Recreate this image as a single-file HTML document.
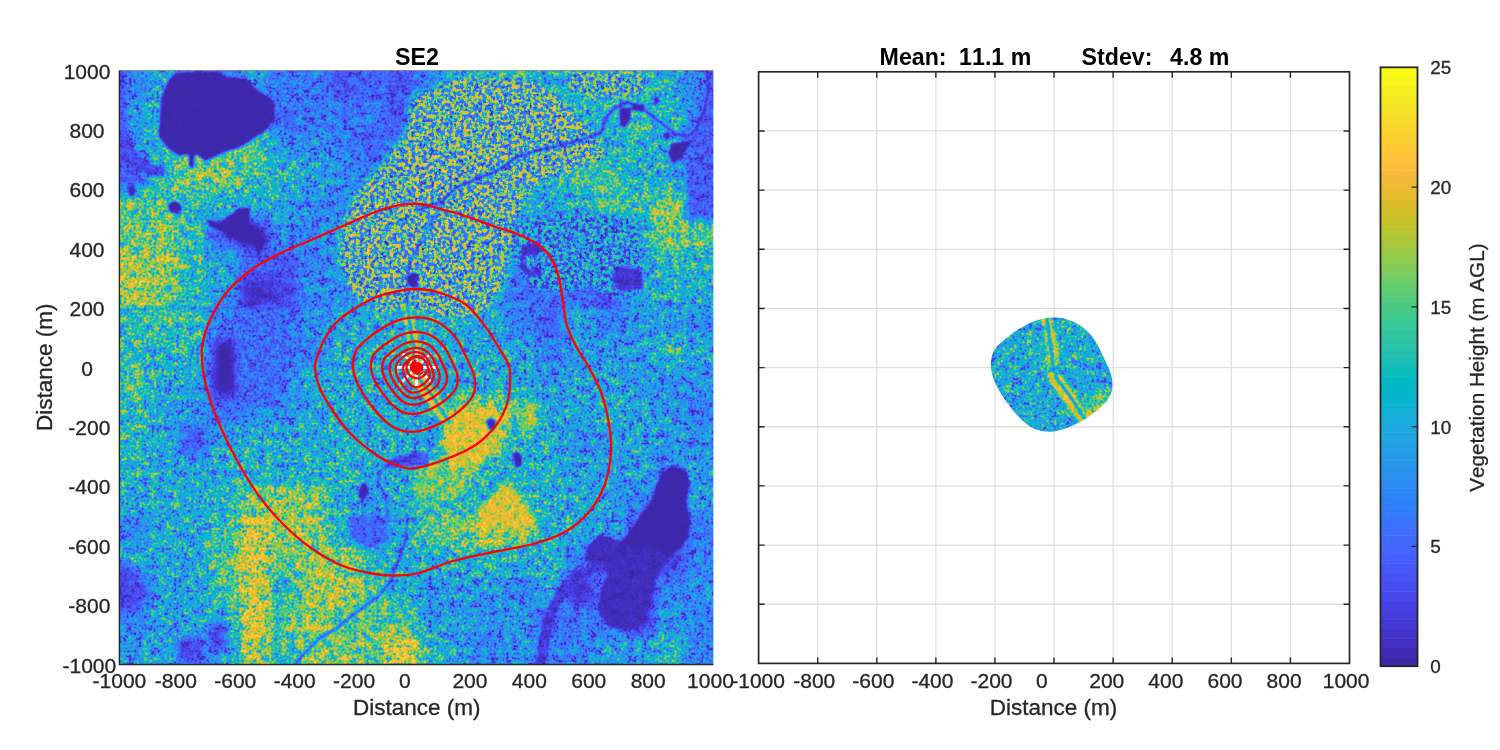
<!DOCTYPE html>
<html><head><meta charset="utf-8"><title>SE2 vegetation height</title>
<style>html,body{margin:0;padding:0;background:#fff}svg{display:block;will-change:transform;opacity:0.9999}text{font-family:"Liberation Sans",Arial,Helvetica,sans-serif;fill:#262626;white-space:pre;font-kerning:none;stroke:#262626;stroke-width:0.3px}text[font-weight=bold],g[font-weight=bold] text{stroke:none}</style></head><body>
<svg width="1500" height="750" viewBox="0 0 1500 750">
<defs>
<filter id="bG" x="-10%" y="-10%" width="120%" height="120%" color-interpolation-filters="sRGB"><feGaussianBlur stdDeviation="7"/></filter>
<filter id="bR" x="-10%" y="-10%" width="120%" height="120%" color-interpolation-filters="sRGB"><feGaussianBlur stdDeviation="3"/></filter>
<filter id="b1" x="-5%" y="-5%" width="110%" height="110%" color-interpolation-filters="sRGB"><feGaussianBlur stdDeviation="1.2"/></filter>
<filter id="veg" x="0" y="0" width="594" height="594" filterUnits="userSpaceOnUse" color-interpolation-filters="sRGB">
<feTurbulence type="fractalNoise" baseFrequency="0.4" numOctaves="1" seed="7"/>
<feColorMatrix type="matrix" values="0 1 0 0 0  0 1 0 0 0  0 0 0 0 0  0 0 0 0 1" result="t1"/>
<feTurbulence type="fractalNoise" baseFrequency="0.13" numOctaves="2" seed="21"/>
<feColorMatrix type="matrix" values="0 1 0 0 0  0 1 0 0 0  0 0 0 0 0  0 0 0 0 1" result="t2"/>
<feTurbulence type="fractalNoise" baseFrequency="0.27" numOctaves="2" seed="5"/>
<feColorMatrix type="matrix" values="0 0 0 0 0  0 0 0 0 0  0 1 0 0 0  0 0 0 0 1" result="t3"/>
<feComposite in="t1" in2="t2" operator="arithmetic" k1="0" k2="0.55" k3="0.45" k4="0"/>
<feComposite in2="t3" operator="arithmetic" k1="0" k2="1" k3="1" k4="0"/>
<feComponentTransfer><feFuncR type="linear" slope="0" intercept="1"/><feFuncG type="linear" slope="3.4" intercept="-1.2"/><feFuncB type="linear" slope="7" intercept="-3.000"/></feComponentTransfer>
<feComponentTransfer result="n"><feFuncG type="table" tableValues="0 0.14 0.27 0.37 0.45 0.5 0.55 0.62 0.7 0.81 0.95"/></feComponentTransfer>
<feComposite in="SourceGraphic" in2="n" operator="arithmetic" k1="1" k2="0" k3="0" k4="0"/>
<feColorMatrix type="matrix" values="1 1 1 0 0  1 1 1 0 0  1 1 1 0 0  0 0 0 0 1"/>
<feComponentTransfer><feFuncR type="table" tableValues="0.242 0.250 0.258 0.265 0.271 0.275 0.278 0.280 0.281 0.281 0.279 0.276 0.270 0.260 0.244 0.221 0.196 0.183 0.179 0.176 0.169 0.154 0.146 0.138 0.125 0.111 0.095 0.069 0.030 0.004 0.007 0.043 0.096 0.141 0.172 0.194 0.216 0.247 0.291 0.341 0.391 0.446 0.504 0.562 0.617 0.672 0.724 0.774 0.820 0.863 0.887 0.906 0.924 0.942 0.958 0.975 0.989 0.996 0.997 0.997 0.996 0.995 0.992 0.989"/><feFuncG type="table" tableValues="0.150 0.165 0.182 0.198 0.215 0.234 0.256 0.278 0.301 0.323 0.345 0.367 0.389 0.412 0.436 0.460 0.485 0.507 0.529 0.550 0.570 0.590 0.609 0.628 0.646 0.663 0.680 0.695 0.708 0.720 0.731 0.741 0.750 0.758 0.767 0.776 0.784 0.792 0.797 0.801 0.803 0.802 0.799 0.794 0.788 0.779 0.770 0.760 0.750 0.741 0.736 0.733 0.730 0.729 0.728 0.730 0.736 0.745 0.756 0.767 0.779 0.791 0.803 0.815"/><feFuncB type="table" tableValues="0.660 0.708 0.751 0.795 0.836 0.871 0.899 0.922 0.941 0.958 0.972 0.983 0.991 0.995 0.999 0.997 0.989 0.980 0.968 0.952 0.936 0.922 0.908 0.897 0.888 0.876 0.860 0.839 0.816 0.792 0.766 0.739 0.712 0.684 0.655 0.625 0.592 0.557 0.519 0.479 0.435 0.391 0.348 0.304 0.261 0.223 0.191 0.165 0.154 0.160 0.168 0.179 0.195 0.213 0.229 0.241 0.243 0.236 0.227 0.219 0.210 0.202 0.194 0.188"/><feFuncA type="linear" slope="0" intercept="1"/></feComponentTransfer>
</filter>
<g id="field">
<g filter="url(#bG)">
<rect x="-40.0" y="-40.0" width="70.0" height="70.0" fill="#087900"/><rect x="29.7" y="-40.0" width="30.0" height="70.0" fill="#14a400"/><rect x="59.4" y="-40.0" width="30.0" height="70.0" fill="#065800"/><rect x="89.1" y="-40.0" width="30.0" height="70.0" fill="#065800"/><rect x="118.8" y="-40.0" width="30.0" height="70.0" fill="#0c9800"/><rect x="148.5" y="-40.0" width="30.0" height="70.0" fill="#076c00"/><rect x="178.2" y="-40.0" width="30.0" height="70.0" fill="#087900"/><rect x="207.9" y="-40.0" width="30.0" height="70.0" fill="#054300"/><rect x="237.6" y="-40.0" width="30.0" height="70.0" fill="#065800"/><rect x="267.3" y="-40.0" width="30.0" height="70.0" fill="#054300"/><rect x="297.0" y="-40.0" width="30.0" height="70.0" fill="#087900"/><rect x="326.7" y="-40.0" width="30.0" height="70.0" fill="#1fa800"/><rect x="356.4" y="-40.0" width="30.0" height="70.0" fill="#1fa800"/><rect x="386.1" y="-40.0" width="30.0" height="70.0" fill="#1fa800"/><rect x="415.8" y="-40.0" width="30.0" height="70.0" fill="#18a600"/><rect x="445.5" y="-40.0" width="30.0" height="70.0" fill="#18a600"/><rect x="475.2" y="-40.0" width="30.0" height="70.0" fill="#1fa800"/><rect x="504.9" y="-40.0" width="30.0" height="70.0" fill="#27a700"/><rect x="534.6" y="-40.0" width="30.0" height="70.0" fill="#18a600"/><rect x="564.3" y="-40.0" width="70.0" height="70.0" fill="#087900"/>
<rect x="-40.0" y="29.7" width="70.0" height="30.0" fill="#0e9c00"/><rect x="29.7" y="29.7" width="30.0" height="30.0" fill="#27a700"/><rect x="59.4" y="29.7" width="30.0" height="30.0" fill="#087900"/><rect x="89.1" y="29.7" width="30.0" height="30.0" fill="#087900"/><rect x="118.8" y="29.7" width="30.0" height="30.0" fill="#0c9800"/><rect x="148.5" y="29.7" width="30.0" height="30.0" fill="#065800"/><rect x="178.2" y="29.7" width="30.0" height="30.0" fill="#076c00"/><rect x="207.9" y="29.7" width="30.0" height="30.0" fill="#076c00"/><rect x="237.6" y="29.7" width="30.0" height="30.0" fill="#076c00"/><rect x="267.3" y="29.7" width="30.0" height="30.0" fill="#054300"/><rect x="297.0" y="29.7" width="30.0" height="30.0" fill="#14a400"/><rect x="326.7" y="29.7" width="30.0" height="30.0" fill="#1fa800"/><rect x="356.4" y="29.7" width="30.0" height="30.0" fill="#27a700"/><rect x="386.1" y="29.7" width="30.0" height="30.0" fill="#1fa800"/><rect x="415.8" y="29.7" width="30.0" height="30.0" fill="#18a600"/><rect x="445.5" y="29.7" width="30.0" height="30.0" fill="#18a600"/><rect x="475.2" y="29.7" width="30.0" height="30.0" fill="#27a700"/><rect x="504.9" y="29.7" width="30.0" height="30.0" fill="#39a200"/><rect x="534.6" y="29.7" width="30.0" height="30.0" fill="#27a700"/><rect x="564.3" y="29.7" width="70.0" height="30.0" fill="#087900"/>
<rect x="-40.0" y="59.4" width="70.0" height="30.0" fill="#098700"/><rect x="29.7" y="59.4" width="30.0" height="30.0" fill="#2da600"/><rect x="59.4" y="59.4" width="30.0" height="30.0" fill="#2da600"/><rect x="89.1" y="59.4" width="30.0" height="30.0" fill="#499f00"/><rect x="118.8" y="59.4" width="30.0" height="30.0" fill="#499f00"/><rect x="148.5" y="59.4" width="30.0" height="30.0" fill="#098700"/><rect x="178.2" y="59.4" width="30.0" height="30.0" fill="#098700"/><rect x="207.9" y="59.4" width="30.0" height="30.0" fill="#087900"/><rect x="237.6" y="59.4" width="30.0" height="30.0" fill="#065100"/><rect x="267.3" y="59.4" width="30.0" height="30.0" fill="#076c00"/><rect x="297.0" y="59.4" width="30.0" height="30.0" fill="#18a600"/><rect x="326.7" y="59.4" width="30.0" height="30.0" fill="#1fa800"/><rect x="356.4" y="59.4" width="30.0" height="30.0" fill="#2da600"/><rect x="386.1" y="59.4" width="30.0" height="30.0" fill="#1fa800"/><rect x="415.8" y="59.4" width="30.0" height="30.0" fill="#14a400"/><rect x="445.5" y="59.4" width="30.0" height="30.0" fill="#1fa800"/><rect x="475.2" y="59.4" width="30.0" height="30.0" fill="#1fa800"/><rect x="504.9" y="59.4" width="30.0" height="30.0" fill="#22a800"/><rect x="534.6" y="59.4" width="30.0" height="30.0" fill="#18a600"/><rect x="564.3" y="59.4" width="70.0" height="30.0" fill="#065800"/>
<rect x="-40.0" y="89.1" width="70.0" height="30.0" fill="#054300"/><rect x="29.7" y="89.1" width="30.0" height="30.0" fill="#2da600"/><rect x="59.4" y="89.1" width="30.0" height="30.0" fill="#54a800"/><rect x="89.1" y="89.1" width="30.0" height="30.0" fill="#54a800"/><rect x="118.8" y="89.1" width="30.0" height="30.0" fill="#39a200"/><rect x="148.5" y="89.1" width="30.0" height="30.0" fill="#27a700"/><rect x="178.2" y="89.1" width="30.0" height="30.0" fill="#11a100"/><rect x="207.9" y="89.1" width="30.0" height="30.0" fill="#0a8d00"/><rect x="237.6" y="89.1" width="30.0" height="30.0" fill="#076c00"/><rect x="267.3" y="89.1" width="30.0" height="30.0" fill="#098700"/><rect x="297.0" y="89.1" width="30.0" height="30.0" fill="#1fa800"/><rect x="326.7" y="89.1" width="30.0" height="30.0" fill="#27a700"/><rect x="356.4" y="89.1" width="30.0" height="30.0" fill="#1fa800"/><rect x="386.1" y="89.1" width="30.0" height="30.0" fill="#18a600"/><rect x="415.8" y="89.1" width="30.0" height="30.0" fill="#18a600"/><rect x="445.5" y="89.1" width="30.0" height="30.0" fill="#39a200"/><rect x="475.2" y="89.1" width="30.0" height="30.0" fill="#39a200"/><rect x="504.9" y="89.1" width="30.0" height="30.0" fill="#1fa800"/><rect x="534.6" y="89.1" width="30.0" height="30.0" fill="#14a400"/><rect x="564.3" y="89.1" width="70.0" height="30.0" fill="#065800"/>
<rect x="-40.0" y="118.8" width="70.0" height="30.0" fill="#499f00"/><rect x="29.7" y="118.8" width="30.0" height="30.0" fill="#499f00"/><rect x="59.4" y="118.8" width="30.0" height="30.0" fill="#2da600"/><rect x="89.1" y="118.8" width="30.0" height="30.0" fill="#1fa800"/><rect x="118.8" y="118.8" width="30.0" height="30.0" fill="#18a600"/><rect x="148.5" y="118.8" width="30.0" height="30.0" fill="#14a400"/><rect x="178.2" y="118.8" width="30.0" height="30.0" fill="#098700"/><rect x="207.9" y="118.8" width="30.0" height="30.0" fill="#087900"/><rect x="237.6" y="118.8" width="30.0" height="30.0" fill="#18a600"/><rect x="267.3" y="118.8" width="30.0" height="30.0" fill="#2da600"/><rect x="297.0" y="118.8" width="30.0" height="30.0" fill="#2da600"/><rect x="326.7" y="118.8" width="30.0" height="30.0" fill="#27a700"/><rect x="356.4" y="118.8" width="30.0" height="30.0" fill="#14a400"/><rect x="386.1" y="118.8" width="30.0" height="30.0" fill="#11a100"/><rect x="415.8" y="118.8" width="30.0" height="30.0" fill="#18a600"/><rect x="445.5" y="118.8" width="30.0" height="30.0" fill="#1fa800"/><rect x="475.2" y="118.8" width="30.0" height="30.0" fill="#499f00"/><rect x="504.9" y="118.8" width="30.0" height="30.0" fill="#2da600"/><rect x="534.6" y="118.8" width="30.0" height="30.0" fill="#54a800"/><rect x="564.3" y="118.8" width="70.0" height="30.0" fill="#2da600"/>
<rect x="-40.0" y="148.5" width="70.0" height="30.0" fill="#499f00"/><rect x="29.7" y="148.5" width="30.0" height="30.0" fill="#54a800"/><rect x="59.4" y="148.5" width="30.0" height="30.0" fill="#2da600"/><rect x="89.1" y="148.5" width="30.0" height="30.0" fill="#043600"/><rect x="118.8" y="148.5" width="30.0" height="30.0" fill="#000000"/><rect x="148.5" y="148.5" width="30.0" height="30.0" fill="#098700"/><rect x="178.2" y="148.5" width="30.0" height="30.0" fill="#087900"/><rect x="207.9" y="148.5" width="30.0" height="30.0" fill="#0c9800"/><rect x="237.6" y="148.5" width="30.0" height="30.0" fill="#27a700"/><rect x="267.3" y="148.5" width="30.0" height="30.0" fill="#27a700"/><rect x="297.0" y="148.5" width="30.0" height="30.0" fill="#2da600"/><rect x="326.7" y="148.5" width="30.0" height="30.0" fill="#39a200"/><rect x="356.4" y="148.5" width="30.0" height="30.0" fill="#2da600"/><rect x="386.1" y="148.5" width="30.0" height="30.0" fill="#0c9800"/><rect x="415.8" y="148.5" width="30.0" height="30.0" fill="#087900"/><rect x="445.5" y="148.5" width="30.0" height="30.0" fill="#076c00"/><rect x="475.2" y="148.5" width="30.0" height="30.0" fill="#087900"/><rect x="504.9" y="148.5" width="30.0" height="30.0" fill="#1fa800"/><rect x="534.6" y="148.5" width="30.0" height="30.0" fill="#54a800"/><rect x="564.3" y="148.5" width="70.0" height="30.0" fill="#499f00"/>
<rect x="-40.0" y="178.2" width="70.0" height="30.0" fill="#59b200"/><rect x="29.7" y="178.2" width="30.0" height="30.0" fill="#59b200"/><rect x="59.4" y="178.2" width="30.0" height="30.0" fill="#27a700"/><rect x="89.1" y="178.2" width="30.0" height="30.0" fill="#18a600"/><rect x="118.8" y="178.2" width="30.0" height="30.0" fill="#065800"/><rect x="148.5" y="178.2" width="30.0" height="30.0" fill="#054300"/><rect x="178.2" y="178.2" width="30.0" height="30.0" fill="#087900"/><rect x="207.9" y="178.2" width="30.0" height="30.0" fill="#098700"/><rect x="237.6" y="178.2" width="30.0" height="30.0" fill="#27a700"/><rect x="267.3" y="178.2" width="30.0" height="30.0" fill="#27a700"/><rect x="297.0" y="178.2" width="30.0" height="30.0" fill="#1fa800"/><rect x="326.7" y="178.2" width="30.0" height="30.0" fill="#2da600"/><rect x="356.4" y="178.2" width="30.0" height="30.0" fill="#2da600"/><rect x="386.1" y="178.2" width="30.0" height="30.0" fill="#076c00"/><rect x="415.8" y="178.2" width="30.0" height="30.0" fill="#087900"/><rect x="445.5" y="178.2" width="30.0" height="30.0" fill="#054300"/><rect x="475.2" y="178.2" width="30.0" height="30.0" fill="#065800"/><rect x="504.9" y="178.2" width="30.0" height="30.0" fill="#14a400"/><rect x="534.6" y="178.2" width="30.0" height="30.0" fill="#2da600"/><rect x="564.3" y="178.2" width="70.0" height="30.0" fill="#1fa800"/>
<rect x="-40.0" y="207.9" width="70.0" height="30.0" fill="#5ebd00"/><rect x="29.7" y="207.9" width="30.0" height="30.0" fill="#54a800"/><rect x="59.4" y="207.9" width="30.0" height="30.0" fill="#27a700"/><rect x="89.1" y="207.9" width="30.0" height="30.0" fill="#0c9800"/><rect x="118.8" y="207.9" width="30.0" height="30.0" fill="#010d00"/><rect x="148.5" y="207.9" width="30.0" height="30.0" fill="#032800"/><rect x="178.2" y="207.9" width="30.0" height="30.0" fill="#098700"/><rect x="207.9" y="207.9" width="30.0" height="30.0" fill="#098700"/><rect x="237.6" y="207.9" width="30.0" height="30.0" fill="#1fa800"/><rect x="267.3" y="207.9" width="30.0" height="30.0" fill="#27a700"/><rect x="297.0" y="207.9" width="30.0" height="30.0" fill="#1fa800"/><rect x="326.7" y="207.9" width="30.0" height="30.0" fill="#1fa800"/><rect x="356.4" y="207.9" width="30.0" height="30.0" fill="#18a600"/><rect x="386.1" y="207.9" width="30.0" height="30.0" fill="#065e00"/><rect x="415.8" y="207.9" width="30.0" height="30.0" fill="#065e00"/><rect x="445.5" y="207.9" width="30.0" height="30.0" fill="#065e00"/><rect x="475.2" y="207.9" width="30.0" height="30.0" fill="#032800"/><rect x="504.9" y="207.9" width="30.0" height="30.0" fill="#18a600"/><rect x="534.6" y="207.9" width="30.0" height="30.0" fill="#18a600"/><rect x="564.3" y="207.9" width="70.0" height="30.0" fill="#1fa800"/>
<rect x="-40.0" y="237.6" width="70.0" height="30.0" fill="#2da600"/><rect x="29.7" y="237.6" width="30.0" height="30.0" fill="#39a200"/><rect x="59.4" y="237.6" width="30.0" height="30.0" fill="#2da600"/><rect x="89.1" y="237.6" width="30.0" height="30.0" fill="#076c00"/><rect x="118.8" y="237.6" width="30.0" height="30.0" fill="#065800"/><rect x="148.5" y="237.6" width="30.0" height="30.0" fill="#076c00"/><rect x="178.2" y="237.6" width="30.0" height="30.0" fill="#098700"/><rect x="207.9" y="237.6" width="30.0" height="30.0" fill="#11a100"/><rect x="237.6" y="237.6" width="30.0" height="30.0" fill="#14a400"/><rect x="267.3" y="237.6" width="30.0" height="30.0" fill="#18a600"/><rect x="297.0" y="237.6" width="30.0" height="30.0" fill="#1fa800"/><rect x="326.7" y="237.6" width="30.0" height="30.0" fill="#18a600"/><rect x="356.4" y="237.6" width="30.0" height="30.0" fill="#14a400"/><rect x="386.1" y="237.6" width="30.0" height="30.0" fill="#087900"/><rect x="415.8" y="237.6" width="30.0" height="30.0" fill="#065100"/><rect x="445.5" y="237.6" width="30.0" height="30.0" fill="#14a400"/><rect x="475.2" y="237.6" width="30.0" height="30.0" fill="#087900"/><rect x="504.9" y="237.6" width="30.0" height="30.0" fill="#0c9800"/><rect x="534.6" y="237.6" width="30.0" height="30.0" fill="#0c9800"/><rect x="564.3" y="237.6" width="70.0" height="30.0" fill="#098700"/>
<rect x="-40.0" y="267.3" width="70.0" height="30.0" fill="#27a700"/><rect x="29.7" y="267.3" width="30.0" height="30.0" fill="#27a700"/><rect x="59.4" y="267.3" width="30.0" height="30.0" fill="#27a700"/><rect x="89.1" y="267.3" width="30.0" height="30.0" fill="#000000"/><rect x="118.8" y="267.3" width="30.0" height="30.0" fill="#054300"/><rect x="148.5" y="267.3" width="30.0" height="30.0" fill="#076c00"/><rect x="178.2" y="267.3" width="30.0" height="30.0" fill="#087900"/><rect x="207.9" y="267.3" width="30.0" height="30.0" fill="#18a600"/><rect x="237.6" y="267.3" width="30.0" height="30.0" fill="#18a600"/><rect x="267.3" y="267.3" width="30.0" height="30.0" fill="#1fa800"/><rect x="297.0" y="267.3" width="30.0" height="30.0" fill="#1fa800"/><rect x="326.7" y="267.3" width="30.0" height="30.0" fill="#18a600"/><rect x="356.4" y="267.3" width="30.0" height="30.0" fill="#14a400"/><rect x="386.1" y="267.3" width="30.0" height="30.0" fill="#11a100"/><rect x="415.8" y="267.3" width="30.0" height="30.0" fill="#087900"/><rect x="445.5" y="267.3" width="30.0" height="30.0" fill="#0c9800"/><rect x="475.2" y="267.3" width="30.0" height="30.0" fill="#0c9800"/><rect x="504.9" y="267.3" width="30.0" height="30.0" fill="#0c9800"/><rect x="534.6" y="267.3" width="30.0" height="30.0" fill="#2da600"/><rect x="564.3" y="267.3" width="70.0" height="30.0" fill="#14a400"/>
<rect x="-40.0" y="297.0" width="70.0" height="30.0" fill="#499f00"/><rect x="29.7" y="297.0" width="30.0" height="30.0" fill="#18a600"/><rect x="59.4" y="297.0" width="30.0" height="30.0" fill="#11a100"/><rect x="89.1" y="297.0" width="30.0" height="30.0" fill="#000000"/><rect x="118.8" y="297.0" width="30.0" height="30.0" fill="#065800"/><rect x="148.5" y="297.0" width="30.0" height="30.0" fill="#087900"/><rect x="178.2" y="297.0" width="30.0" height="30.0" fill="#14a400"/><rect x="207.9" y="297.0" width="30.0" height="30.0" fill="#18a600"/><rect x="237.6" y="297.0" width="30.0" height="30.0" fill="#18a600"/><rect x="267.3" y="297.0" width="30.0" height="30.0" fill="#18a600"/><rect x="297.0" y="297.0" width="30.0" height="30.0" fill="#18a600"/><rect x="326.7" y="297.0" width="30.0" height="30.0" fill="#18a600"/><rect x="356.4" y="297.0" width="30.0" height="30.0" fill="#18a600"/><rect x="386.1" y="297.0" width="30.0" height="30.0" fill="#11a100"/><rect x="415.8" y="297.0" width="30.0" height="30.0" fill="#0c9800"/><rect x="445.5" y="297.0" width="30.0" height="30.0" fill="#11a100"/><rect x="475.2" y="297.0" width="30.0" height="30.0" fill="#11a100"/><rect x="504.9" y="297.0" width="30.0" height="30.0" fill="#0c9800"/><rect x="534.6" y="297.0" width="30.0" height="30.0" fill="#0a8d00"/><rect x="564.3" y="297.0" width="70.0" height="30.0" fill="#0a8d00"/>
<rect x="-40.0" y="326.7" width="70.0" height="30.0" fill="#27a700"/><rect x="29.7" y="326.7" width="30.0" height="30.0" fill="#11a100"/><rect x="59.4" y="326.7" width="30.0" height="30.0" fill="#0c9800"/><rect x="89.1" y="326.7" width="30.0" height="30.0" fill="#065800"/><rect x="118.8" y="326.7" width="30.0" height="30.0" fill="#098700"/><rect x="148.5" y="326.7" width="30.0" height="30.0" fill="#098700"/><rect x="178.2" y="326.7" width="30.0" height="30.0" fill="#14a400"/><rect x="207.9" y="326.7" width="30.0" height="30.0" fill="#18a600"/><rect x="237.6" y="326.7" width="30.0" height="30.0" fill="#14a400"/><rect x="267.3" y="326.7" width="30.0" height="30.0" fill="#18a600"/><rect x="297.0" y="326.7" width="30.0" height="30.0" fill="#14a400"/><rect x="326.7" y="326.7" width="30.0" height="30.0" fill="#54a800"/><rect x="356.4" y="326.7" width="30.0" height="30.0" fill="#59b200"/><rect x="386.1" y="326.7" width="30.0" height="30.0" fill="#499f00"/><rect x="415.8" y="326.7" width="30.0" height="30.0" fill="#14a400"/><rect x="445.5" y="326.7" width="30.0" height="30.0" fill="#11a100"/><rect x="475.2" y="326.7" width="30.0" height="30.0" fill="#1fa800"/><rect x="504.9" y="326.7" width="30.0" height="30.0" fill="#11a100"/><rect x="534.6" y="326.7" width="30.0" height="30.0" fill="#0c9800"/><rect x="564.3" y="326.7" width="70.0" height="30.0" fill="#087900"/>
<rect x="-40.0" y="356.4" width="70.0" height="30.0" fill="#2da600"/><rect x="29.7" y="356.4" width="30.0" height="30.0" fill="#14a400"/><rect x="59.4" y="356.4" width="30.0" height="30.0" fill="#054300"/><rect x="89.1" y="356.4" width="30.0" height="30.0" fill="#14a400"/><rect x="118.8" y="356.4" width="30.0" height="30.0" fill="#1fa800"/><rect x="148.5" y="356.4" width="30.0" height="30.0" fill="#18a600"/><rect x="178.2" y="356.4" width="30.0" height="30.0" fill="#18a600"/><rect x="207.9" y="356.4" width="30.0" height="30.0" fill="#1fa800"/><rect x="237.6" y="356.4" width="30.0" height="30.0" fill="#18a600"/><rect x="267.3" y="356.4" width="30.0" height="30.0" fill="#1fa800"/><rect x="297.0" y="356.4" width="30.0" height="30.0" fill="#0c9800"/><rect x="326.7" y="356.4" width="30.0" height="30.0" fill="#59b200"/><rect x="356.4" y="356.4" width="30.0" height="30.0" fill="#54a800"/><rect x="386.1" y="356.4" width="30.0" height="30.0" fill="#1fa800"/><rect x="415.8" y="356.4" width="30.0" height="30.0" fill="#18a600"/><rect x="445.5" y="356.4" width="30.0" height="30.0" fill="#098700"/><rect x="475.2" y="356.4" width="30.0" height="30.0" fill="#0c9800"/><rect x="504.9" y="356.4" width="30.0" height="30.0" fill="#11a100"/><rect x="534.6" y="356.4" width="30.0" height="30.0" fill="#0c9800"/><rect x="564.3" y="356.4" width="70.0" height="30.0" fill="#0a8d00"/>
<rect x="-40.0" y="386.1" width="70.0" height="30.0" fill="#1fa800"/><rect x="29.7" y="386.1" width="30.0" height="30.0" fill="#18a600"/><rect x="59.4" y="386.1" width="30.0" height="30.0" fill="#14a400"/><rect x="89.1" y="386.1" width="30.0" height="30.0" fill="#18a600"/><rect x="118.8" y="386.1" width="30.0" height="30.0" fill="#1fa800"/><rect x="148.5" y="386.1" width="30.0" height="30.0" fill="#18a600"/><rect x="178.2" y="386.1" width="30.0" height="30.0" fill="#1fa800"/><rect x="207.9" y="386.1" width="30.0" height="30.0" fill="#27a700"/><rect x="237.6" y="386.1" width="30.0" height="30.0" fill="#18a600"/><rect x="267.3" y="386.1" width="30.0" height="30.0" fill="#14a400"/><rect x="297.0" y="386.1" width="30.0" height="30.0" fill="#54a800"/><rect x="326.7" y="386.1" width="30.0" height="30.0" fill="#59b200"/><rect x="356.4" y="386.1" width="30.0" height="30.0" fill="#1fa800"/><rect x="386.1" y="386.1" width="30.0" height="30.0" fill="#18a600"/><rect x="415.8" y="386.1" width="30.0" height="30.0" fill="#1fa800"/><rect x="445.5" y="386.1" width="30.0" height="30.0" fill="#11a100"/><rect x="475.2" y="386.1" width="30.0" height="30.0" fill="#0e9c00"/><rect x="504.9" y="386.1" width="30.0" height="30.0" fill="#11a100"/><rect x="534.6" y="386.1" width="30.0" height="30.0" fill="#087900"/><rect x="564.3" y="386.1" width="70.0" height="30.0" fill="#0c9800"/>
<rect x="-40.0" y="415.8" width="70.0" height="30.0" fill="#14a400"/><rect x="29.7" y="415.8" width="30.0" height="30.0" fill="#18a600"/><rect x="59.4" y="415.8" width="30.0" height="30.0" fill="#18a600"/><rect x="89.1" y="415.8" width="30.0" height="30.0" fill="#1fa800"/><rect x="118.8" y="415.8" width="30.0" height="30.0" fill="#54a800"/><rect x="148.5" y="415.8" width="30.0" height="30.0" fill="#59b200"/><rect x="178.2" y="415.8" width="30.0" height="30.0" fill="#54a800"/><rect x="207.9" y="415.8" width="30.0" height="30.0" fill="#18a600"/><rect x="237.6" y="415.8" width="30.0" height="30.0" fill="#0c9800"/><rect x="267.3" y="415.8" width="30.0" height="30.0" fill="#18a600"/><rect x="297.0" y="415.8" width="30.0" height="30.0" fill="#39a200"/><rect x="326.7" y="415.8" width="30.0" height="30.0" fill="#27a700"/><rect x="356.4" y="415.8" width="30.0" height="30.0" fill="#1fa800"/><rect x="386.1" y="415.8" width="30.0" height="30.0" fill="#39a200"/><rect x="415.8" y="415.8" width="30.0" height="30.0" fill="#18a600"/><rect x="445.5" y="415.8" width="30.0" height="30.0" fill="#18a600"/><rect x="475.2" y="415.8" width="30.0" height="30.0" fill="#0e9c00"/><rect x="504.9" y="415.8" width="30.0" height="30.0" fill="#087900"/><rect x="534.6" y="415.8" width="30.0" height="30.0" fill="#087900"/><rect x="564.3" y="415.8" width="70.0" height="30.0" fill="#0c9800"/>
<rect x="-40.0" y="445.5" width="70.0" height="30.0" fill="#087900"/><rect x="29.7" y="445.5" width="30.0" height="30.0" fill="#18a600"/><rect x="59.4" y="445.5" width="30.0" height="30.0" fill="#18a600"/><rect x="89.1" y="445.5" width="30.0" height="30.0" fill="#2da600"/><rect x="118.8" y="445.5" width="30.0" height="30.0" fill="#66cc00"/><rect x="148.5" y="445.5" width="30.0" height="30.0" fill="#59b200"/><rect x="178.2" y="445.5" width="30.0" height="30.0" fill="#54a800"/><rect x="207.9" y="445.5" width="30.0" height="30.0" fill="#27a700"/><rect x="237.6" y="445.5" width="30.0" height="30.0" fill="#065800"/><rect x="267.3" y="445.5" width="30.0" height="30.0" fill="#18a600"/><rect x="297.0" y="445.5" width="30.0" height="30.0" fill="#499f00"/><rect x="326.7" y="445.5" width="30.0" height="30.0" fill="#54a800"/><rect x="356.4" y="445.5" width="30.0" height="30.0" fill="#5ebd00"/><rect x="386.1" y="445.5" width="30.0" height="30.0" fill="#54a800"/><rect x="415.8" y="445.5" width="30.0" height="30.0" fill="#18a600"/><rect x="445.5" y="445.5" width="30.0" height="30.0" fill="#18a600"/><rect x="475.2" y="445.5" width="30.0" height="30.0" fill="#0c9800"/><rect x="504.9" y="445.5" width="30.0" height="30.0" fill="#065800"/><rect x="534.6" y="445.5" width="30.0" height="30.0" fill="#043600"/><rect x="564.3" y="445.5" width="70.0" height="30.0" fill="#076c00"/>
<rect x="-40.0" y="475.2" width="70.0" height="30.0" fill="#1fa800"/><rect x="29.7" y="475.2" width="30.0" height="30.0" fill="#18a600"/><rect x="59.4" y="475.2" width="30.0" height="30.0" fill="#11a100"/><rect x="89.1" y="475.2" width="30.0" height="30.0" fill="#499f00"/><rect x="118.8" y="475.2" width="30.0" height="30.0" fill="#66cc00"/><rect x="148.5" y="475.2" width="30.0" height="30.0" fill="#499f00"/><rect x="178.2" y="475.2" width="30.0" height="30.0" fill="#59b200"/><rect x="207.9" y="475.2" width="30.0" height="30.0" fill="#54a800"/><rect x="237.6" y="475.2" width="30.0" height="30.0" fill="#2da600"/><rect x="267.3" y="475.2" width="30.0" height="30.0" fill="#18a600"/><rect x="297.0" y="475.2" width="30.0" height="30.0" fill="#18a600"/><rect x="326.7" y="475.2" width="30.0" height="30.0" fill="#1fa800"/><rect x="356.4" y="475.2" width="30.0" height="30.0" fill="#27a700"/><rect x="386.1" y="475.2" width="30.0" height="30.0" fill="#18a600"/><rect x="415.8" y="475.2" width="30.0" height="30.0" fill="#1fa800"/><rect x="445.5" y="475.2" width="30.0" height="30.0" fill="#076c00"/><rect x="475.2" y="475.2" width="30.0" height="30.0" fill="#032800"/><rect x="504.9" y="475.2" width="30.0" height="30.0" fill="#011400"/><rect x="534.6" y="475.2" width="30.0" height="30.0" fill="#032800"/><rect x="564.3" y="475.2" width="70.0" height="30.0" fill="#087900"/>
<rect x="-40.0" y="504.9" width="70.0" height="30.0" fill="#032800"/><rect x="29.7" y="504.9" width="30.0" height="30.0" fill="#11a100"/><rect x="59.4" y="504.9" width="30.0" height="30.0" fill="#11a100"/><rect x="89.1" y="504.9" width="30.0" height="30.0" fill="#39a200"/><rect x="118.8" y="504.9" width="30.0" height="30.0" fill="#66cc00"/><rect x="148.5" y="504.9" width="30.0" height="30.0" fill="#1fa800"/><rect x="178.2" y="504.9" width="30.0" height="30.0" fill="#59b200"/><rect x="207.9" y="504.9" width="30.0" height="30.0" fill="#5ebd00"/><rect x="237.6" y="504.9" width="30.0" height="30.0" fill="#499f00"/><rect x="267.3" y="504.9" width="30.0" height="30.0" fill="#14a400"/><rect x="297.0" y="504.9" width="30.0" height="30.0" fill="#0c9800"/><rect x="326.7" y="504.9" width="30.0" height="30.0" fill="#0c9800"/><rect x="356.4" y="504.9" width="30.0" height="30.0" fill="#0c9800"/><rect x="386.1" y="504.9" width="30.0" height="30.0" fill="#087900"/><rect x="415.8" y="504.9" width="30.0" height="30.0" fill="#14a400"/><rect x="445.5" y="504.9" width="30.0" height="30.0" fill="#011400"/><rect x="475.2" y="504.9" width="30.0" height="30.0" fill="#087900"/><rect x="504.9" y="504.9" width="30.0" height="30.0" fill="#011400"/><rect x="534.6" y="504.9" width="30.0" height="30.0" fill="#087900"/><rect x="564.3" y="504.9" width="70.0" height="30.0" fill="#0a8d00"/>
<rect x="-40.0" y="534.6" width="70.0" height="30.0" fill="#087900"/><rect x="29.7" y="534.6" width="30.0" height="30.0" fill="#11a100"/><rect x="59.4" y="534.6" width="30.0" height="30.0" fill="#11a100"/><rect x="89.1" y="534.6" width="30.0" height="30.0" fill="#14a400"/><rect x="118.8" y="534.6" width="30.0" height="30.0" fill="#66cc00"/><rect x="148.5" y="534.6" width="30.0" height="30.0" fill="#499f00"/><rect x="178.2" y="534.6" width="30.0" height="30.0" fill="#59b200"/><rect x="207.9" y="534.6" width="30.0" height="30.0" fill="#499f00"/><rect x="237.6" y="534.6" width="30.0" height="30.0" fill="#499f00"/><rect x="267.3" y="534.6" width="30.0" height="30.0" fill="#499f00"/><rect x="297.0" y="534.6" width="30.0" height="30.0" fill="#0c9800"/><rect x="326.7" y="534.6" width="30.0" height="30.0" fill="#0c9800"/><rect x="356.4" y="534.6" width="30.0" height="30.0" fill="#098700"/><rect x="386.1" y="534.6" width="30.0" height="30.0" fill="#0c9800"/><rect x="415.8" y="534.6" width="30.0" height="30.0" fill="#065800"/><rect x="445.5" y="534.6" width="30.0" height="30.0" fill="#076c00"/><rect x="475.2" y="534.6" width="30.0" height="30.0" fill="#076c00"/><rect x="504.9" y="534.6" width="30.0" height="30.0" fill="#011400"/><rect x="534.6" y="534.6" width="30.0" height="30.0" fill="#0c9800"/><rect x="564.3" y="534.6" width="70.0" height="30.0" fill="#087900"/>
<rect x="-40.0" y="564.3" width="70.0" height="70.0" fill="#0c9800"/><rect x="29.7" y="564.3" width="30.0" height="70.0" fill="#14a400"/><rect x="59.4" y="564.3" width="30.0" height="70.0" fill="#065800"/><rect x="89.1" y="564.3" width="30.0" height="70.0" fill="#0c9800"/><rect x="118.8" y="564.3" width="30.0" height="70.0" fill="#5ebd00"/><rect x="148.5" y="564.3" width="30.0" height="70.0" fill="#2da600"/><rect x="178.2" y="564.3" width="30.0" height="70.0" fill="#54a800"/><rect x="207.9" y="564.3" width="30.0" height="70.0" fill="#54a800"/><rect x="237.6" y="564.3" width="30.0" height="70.0" fill="#499f00"/><rect x="267.3" y="564.3" width="30.0" height="70.0" fill="#6edb00"/><rect x="297.0" y="564.3" width="30.0" height="70.0" fill="#2da600"/><rect x="326.7" y="564.3" width="30.0" height="70.0" fill="#0c9800"/><rect x="356.4" y="564.3" width="30.0" height="70.0" fill="#087900"/><rect x="386.1" y="564.3" width="30.0" height="70.0" fill="#0c9800"/><rect x="415.8" y="564.3" width="30.0" height="70.0" fill="#087900"/><rect x="445.5" y="564.3" width="30.0" height="70.0" fill="#087900"/><rect x="475.2" y="564.3" width="30.0" height="70.0" fill="#0c9800"/><rect x="504.9" y="564.3" width="30.0" height="70.0" fill="#0c9800"/><rect x="534.6" y="564.3" width="30.0" height="70.0" fill="#27a700"/><rect x="564.3" y="564.3" width="70.0" height="70.0" fill="#087900"/>
</g>
<g filter="url(#bR)">
<polygon points="57,574 68,568 80,573 82,586 70,592 58,588" fill="#053300"/>
<polygon points="90,556 100,550 108,558 106,578 96,584 88,572" fill="#053300"/>
<polygon points="-5,493 10,490 18,505 16,530 8,542 -5,540" fill="#053300"/>
<polygon points="-5,-5 7,-5 8,60 6,110 -5,110" fill="#054000"/>
<polygon points="590,-5 600,-5 600,150 568,150 566,74 579,62 586,40" fill="#054c00"/>
<polygon points="293,24 341,6 412,8 444,28 475,60 491,87 444,103 412,119 396,158 388,206 372,238 345,248 317,246 293,238 262,244 232,226 218,190 222,150 238,120 261,95 285,63" fill="#085c8f"/>
<polygon points="446,0 520,0 530,20 500,30 470,28 448,20" fill="#085c80"/>
<polygon points="330,342 354,334 386,342 380,374 362,394 334,398 322,374" fill="#996b00"/>
<polygon points="390,410 418,454 410,462 354,454 362,434" fill="#996b00"/>
<polygon points="402,334 418,334 418,358 402,358" fill="#807300"/>
<polygon points="297,398 342,396 346,426 297,430" fill="#6b7300"/>
<polygon points="392,152 430,142 470,140 521,149 526,190 522,226 500,230 470,216 440,224 410,216 394,190" fill="#00386b"/>
<polygon points="118,240 170,238 168,300 160,335 128,336 116,300" fill="#05421f"/>
</g>
<g filter="url(#b1)">
<polygon points="283,236 293,236 298,262 304,296 291,297 287,262" fill="#8c6600"/>
<polygon points="289,303 299,299 314,318 331,346 322,353 304,328" fill="#9e5c00"/>
<polygon points="42,26 40,44 39,66 48,78 60,86 69,84 70,97 74,98 76,84 86,91 95,87 103,83 119,78 135,68 149,58 156,48 155,30 149,26 139,20 127,8 107,6 99,1 56,2 50,8 46,16" fill="#000300"/>
<polygon points="48,134 54,130 61,132 63,139 58,144 50,142" fill="#000300"/>
<polygon points="8,117 13,114 17,119 15,127 9,126" fill="#000800"/>
<polygon points="86,148 100,152 112,143 119,137 131,137 130,152 138,160 148,169 139,186 134,175 120,172 112,167 103,161 90,156" fill="#000300"/>
<polygon points="0,60 8,62 16,82 34,94 46,96 44,106 28,104 8,92 0,78" fill="#052e00"/>
<polygon points="552.6,394.8 565.9,398.8 571.3,412.2 567.3,430.8 571.3,449.5 568.6,468.2 560.6,478.8 549.9,486.8 539.3,481.5 525.9,476.2 512.6,478.8 501.9,470.8 512.6,457.5 520.6,444.2 531.3,430.8 536.6,414.8 541.9,401.5" fill="#000300"/>
<polygon points="501.9,470.8 480.6,462.8 467.3,476.2 464.6,489.5 477.9,494.8 488.6,502.8 480.6,518.8 477.9,540.2 488.6,556.2 507.3,561.5 523.3,553.5 531.3,534.8 533.9,513.5 544.6,494.8 549.9,486.8 539.3,481.5 525.9,476.2 512.6,478.8" fill="#000f00"/>
<polygon points="551,73 572,70 563,87 553,94 549,83" fill="#000300"/>
<polygon points="500,37 512,37 511,50 506,58 500,55" fill="#000300"/>
<polygon points="512,32 526,34 524,42 512,40" fill="#000300"/>
<polygon points="533,28 538,25 541,30 537,35" fill="#000300"/>
<polygon points="543,64 548,61 552,66 547,71" fill="#000300"/>
<polygon points="402,175 418,171 425,180 416,186 408,183 404,192 412,200 420,196 424,204 410,207 400,198" fill="#001a00"/>
<polygon points="496,195 522,198 524,218 500,222 492,210" fill="#001f00"/>
<polygon points="366,351 371,347 377,350 376,358 370,360" fill="#000300"/>
<polygon points="393,384 398,380 403,386 402,396 396,398" fill="#000300"/>
<polygon points="241,414 246,411 249,418 247,428 242,432 239,424" fill="#000300"/>
<polygon points="287,206 293,201 300,204 298,212 301,217 292,218 288,213" fill="#000300"/>
<polygon points="228,446 266,446 268,470 250,478 232,468" fill="#0d4500"/>
<polygon points="266,389 297,381 310,383 309,395 297,396 268,398" fill="#083800"/>
<polyline points="326,128 302,168 288,198 288,236 292,262 296,296 300,308 316,330 330,352" fill="none" stroke="#000d00" stroke-width="1.8" stroke-linejoin="round" stroke-linecap="round"/>
<polyline points="298,296 318,291 334,297 350,309 358,320" fill="none" stroke="#051900" stroke-width="1" stroke-linejoin="round" stroke-linecap="round"/>
<polyline points="479,494 454,508 441,524 430,545 425,569 420,596" fill="none" stroke="#002400" stroke-width="11" stroke-linejoin="round" stroke-linecap="round"/>
<polyline points="297,140 323,131 337,117 357,108 376,101 386,95 396,87 408,83 426,78 446,74 466,68 482,62 486,48 496,37 506,32 516,34 526,40 536,48 546,56 557,64 569,66 577,58 585,40 589,20 588,0" fill="none" stroke="#000500" stroke-width="3" stroke-linejoin="round" stroke-linecap="round"/>
<polyline points="297,381 284,390 268,394 260,402 258,412 266,424 268,446" fill="none" stroke="#000800" stroke-width="2" stroke-linejoin="round" stroke-linecap="round"/>
<polyline points="288,446 286,470 278,492 272,510 260,525 238,541 218,557 199,569 185,583 175,594" fill="none" stroke="#000500" stroke-width="2.4" stroke-linejoin="round" stroke-linecap="round"/>
<polyline points="0,239 150,236 297,232" fill="none" stroke="#052e00" stroke-width="1" stroke-linejoin="round" stroke-linecap="round"/>
</g>
</g>
<g id="vegmap"><g filter="url(#veg)"><use href="#field"/></g></g>
<clipPath id="fp"><path d="M296.9 246.8C300.9 246.8 305.0 247.1 309.0 248.2C313.0 249.3 317.4 251.0 321.1 253.2C324.8 255.4 328.1 258.3 331.1 261.3C334.1 264.3 337.0 268.0 339.2 271.3C341.4 274.6 342.5 278.0 344.2 281.3C345.9 284.6 347.5 287.7 349.2 291.4C350.9 295.1 353.1 299.4 354.2 303.4C355.3 307.4 355.9 311.8 355.7 315.5C355.5 319.2 355.0 322.1 353.2 325.5C351.5 328.9 348.6 332.2 345.2 335.6C341.9 339.0 337.5 342.6 333.1 345.6C328.8 348.6 323.8 351.3 319.1 353.6C314.4 355.9 309.4 358.0 305.0 359.3C300.6 360.6 296.9 361.2 292.9 361.3C288.9 361.4 284.6 360.8 280.9 359.7C277.2 358.6 274.1 357.0 270.8 354.6C267.4 352.2 264.1 349.1 260.8 345.6C257.4 342.1 253.7 337.5 250.7 333.5C247.7 329.5 245.1 325.5 242.7 321.5C240.4 317.5 238.1 313.5 236.6 309.5C235.1 305.5 234.0 301.1 233.6 297.4C233.2 293.7 233.5 290.6 234.2 287.4C234.9 284.2 235.5 281.3 237.6 278.3C239.7 275.3 243.2 272.3 246.7 269.3C250.2 266.3 254.4 263.2 258.8 260.3C263.1 257.4 268.4 254.2 272.8 252.2C277.1 250.2 280.9 249.1 284.9 248.2C288.9 247.3 292.9 246.8 296.9 246.8Z"/></clipPath>
<clipPath id="ax1"><rect x="0" y="0" width="594.0" height="594.0"/></clipPath>
</defs>
<rect width="1500" height="750" fill="#fff"/>
<g transform="translate(119.4 70.5)"><g clip-path="url(#ax1)"><use href="#vegmap"/>
<path d="M300.2 296.9 L317.2 296.9 M299.3 299.0 L311.3 311.0 M297.2 299.9 L297.2 316.9 M295.1 299.0 L283.1 311.0 M294.2 296.9 L277.2 296.9 M295.1 294.8 L283.1 282.8 M297.2 293.9 L297.2 276.9 M299.3 294.8 L311.3 282.8" stroke="#ffffff" stroke-width="2.6" fill="none"/>
<g fill="none" stroke="#ff0000" stroke-width="2.3" stroke-linejoin="round">
<path d="M299.6 133.5C293.3 133.0 286.9 133.4 279.6 134.7C272.3 136.0 264.9 138.0 255.6 141.5C246.3 145.0 234.3 150.8 223.6 155.5C212.9 160.2 202.3 164.8 191.6 169.5C180.9 174.2 169.6 178.5 159.6 183.5C149.6 188.5 140.3 193.2 131.6 199.5C122.9 205.8 114.3 213.5 107.6 221.5C100.9 229.5 95.7 238.7 91.6 247.5C87.5 256.3 84.2 265.8 82.9 274.5C81.6 283.2 82.5 291.0 83.6 299.5C84.7 308.0 86.6 315.8 89.6 325.5C92.6 335.2 96.6 346.2 101.6 357.5C106.6 368.8 113.3 382.2 119.6 393.5C125.9 404.8 132.3 415.5 139.6 425.5C146.9 435.5 154.9 444.8 163.6 453.5C172.3 462.2 181.6 470.5 191.6 477.5C201.6 484.5 212.9 491.2 223.6 495.5C234.3 499.8 246.3 501.9 255.6 503.5C264.9 505.1 272.3 505.2 279.6 505.0C286.9 504.8 290.6 504.9 299.6 502.5C308.6 500.1 321.3 494.0 333.6 490.5C345.9 487.0 360.3 484.3 373.6 481.5C386.9 478.7 401.6 476.8 413.6 473.5C425.6 470.2 436.3 466.8 445.6 461.5C454.9 456.2 462.9 449.5 469.6 441.5C476.3 433.5 481.9 423.5 485.6 413.5C489.3 403.5 490.9 391.5 491.6 381.5C492.3 371.5 491.3 363.5 489.6 353.5C487.9 343.5 485.3 331.5 481.6 321.5C477.9 311.5 471.6 300.8 467.6 293.5C463.6 286.2 460.9 283.8 457.6 277.5C454.3 271.2 449.9 263.2 447.6 255.5C445.3 247.8 444.9 239.5 443.6 231.5C442.3 223.5 441.6 214.8 439.6 207.5C437.6 200.2 435.3 193.2 431.6 187.5C427.9 181.8 423.3 177.5 417.6 173.5C411.9 169.5 404.9 166.5 397.6 163.5C390.3 160.5 382.3 158.5 373.6 155.5C364.9 152.5 354.9 148.5 345.6 145.5C336.3 142.5 325.3 139.5 317.6 137.5C309.9 135.5 305.9 134.0 299.6 133.5Z"/>
<path d="M296.6 218.5C290.3 218.3 285.8 219.3 279.6 220.5C273.4 221.7 266.3 223.0 259.6 225.5C252.9 228.0 246.3 231.5 239.6 235.5C232.9 239.5 225.3 244.2 219.6 249.5C213.9 254.8 209.3 261.2 205.6 267.5C201.9 273.8 199.3 282.5 197.6 287.5C195.9 292.5 195.3 292.8 195.6 297.5C195.9 302.2 196.9 308.8 199.6 315.5C202.3 322.2 206.6 329.8 211.6 337.5C216.6 345.2 222.3 353.8 229.6 361.5C236.9 369.2 247.3 377.8 255.6 383.5C263.9 389.2 272.8 393.2 279.6 395.5C286.4 397.8 288.3 398.8 296.6 397.5C304.9 396.2 319.4 391.5 329.6 387.5C339.8 383.5 349.6 379.2 357.6 373.5C365.6 367.8 372.6 360.2 377.6 353.5C382.6 346.8 385.4 340.2 387.6 333.5C389.8 326.8 390.3 319.8 390.6 313.5C390.9 307.2 391.4 301.5 389.6 295.5C387.8 289.5 383.6 284.2 379.6 277.5C375.6 270.8 371.3 262.8 365.6 255.5C359.9 248.2 353.6 239.2 345.6 233.5C337.6 227.8 325.8 224.0 317.6 221.5C309.4 219.0 302.9 218.7 296.6 218.5Z"/>
<path d="M296.9 246.8C300.9 246.8 305.0 247.1 309.0 248.2C313.0 249.3 317.4 251.0 321.1 253.2C324.8 255.4 328.1 258.3 331.1 261.3C334.1 264.3 337.0 268.0 339.2 271.3C341.4 274.6 342.5 278.0 344.2 281.3C345.9 284.6 347.5 287.7 349.2 291.4C350.9 295.1 353.1 299.4 354.2 303.4C355.3 307.4 355.9 311.8 355.7 315.5C355.5 319.2 355.0 322.1 353.2 325.5C351.5 328.9 348.6 332.2 345.2 335.6C341.9 339.0 337.5 342.6 333.1 345.6C328.8 348.6 323.8 351.3 319.1 353.6C314.4 355.9 309.4 358.0 305.0 359.3C300.6 360.6 296.9 361.2 292.9 361.3C288.9 361.4 284.6 360.8 280.9 359.7C277.2 358.6 274.1 357.0 270.8 354.6C267.4 352.2 264.1 349.1 260.8 345.6C257.4 342.1 253.7 337.5 250.7 333.5C247.7 329.5 245.1 325.5 242.7 321.5C240.4 317.5 238.1 313.5 236.6 309.5C235.1 305.5 234.0 301.1 233.6 297.4C233.2 293.7 233.5 290.6 234.2 287.4C234.9 284.2 235.5 281.3 237.6 278.3C239.7 275.3 243.2 272.3 246.7 269.3C250.2 266.3 254.4 263.2 258.8 260.3C263.1 257.4 268.4 254.2 272.8 252.2C277.1 250.2 280.9 249.1 284.9 248.2C288.9 247.3 292.9 246.8 296.9 246.8Z"/>
<path d="M296.5 261.5C299.4 261.5 302.3 261.7 305.1 262.5C308.0 263.3 311.1 264.5 313.7 266.1C316.3 267.6 318.7 269.7 320.8 271.9C323.0 274.0 325.0 276.7 326.6 279.0C328.1 281.4 329.0 283.8 330.1 286.2C331.3 288.6 332.5 290.8 333.7 293.4C334.9 296.1 336.5 299.2 337.2 302.0C338.0 304.9 338.4 308.1 338.3 310.7C338.2 313.3 337.8 315.5 336.5 317.9C335.3 320.3 333.2 322.7 330.8 325.1C328.5 327.5 325.3 330.1 322.3 332.3C319.2 334.4 315.6 336.4 312.3 338.0C309.0 339.6 305.4 341.1 302.3 342.1C299.2 343.0 296.6 343.5 293.7 343.5C290.9 343.5 287.8 343.2 285.2 342.4C282.6 341.6 280.4 340.4 278.0 338.7C275.6 337.0 273.3 334.8 270.9 332.3C268.5 329.7 265.9 326.5 263.7 323.6C261.6 320.7 259.7 317.9 258.1 315.0C256.4 312.1 254.8 309.3 253.7 306.4C252.7 303.5 251.9 300.4 251.6 297.7C251.3 295.1 251.6 292.9 252.0 290.6C252.5 288.3 253.0 286.2 254.4 284.1C255.9 281.9 258.4 279.8 260.9 277.6C263.4 275.5 266.4 273.2 269.5 271.2C272.6 269.1 276.3 266.8 279.4 265.4C282.5 263.9 285.2 263.1 288.0 262.5C290.9 261.9 293.7 261.5 296.5 261.5Z"/>
<path d="M296.4 270.8C298.6 270.8 300.7 271.0 302.9 271.6C305.0 272.2 307.3 273.1 309.3 274.3C311.2 275.6 313.0 277.2 314.6 278.8C316.2 280.5 317.7 282.5 318.9 284.4C320.0 286.2 320.6 288.0 321.5 289.9C322.4 291.8 323.3 293.5 324.2 295.5C325.0 297.5 326.2 299.9 326.8 302.1C327.4 304.4 327.7 306.8 327.6 308.8C327.5 310.9 327.2 312.5 326.3 314.4C325.3 316.2 323.8 318.1 322.0 320.0C320.3 321.8 317.9 323.8 315.6 325.5C313.3 327.2 310.7 328.7 308.2 329.9C305.7 331.2 303.0 332.4 300.7 333.1C298.4 333.8 296.5 334.2 294.3 334.2C292.2 334.2 289.9 333.9 288.0 333.3C286.0 332.7 284.4 331.8 282.6 330.5C280.8 329.2 279.1 327.5 277.3 325.5C275.5 323.6 273.6 321.0 272.0 318.8C270.4 316.6 269.0 314.4 267.7 312.2C266.5 309.9 265.3 307.7 264.5 305.5C263.7 303.3 263.1 300.9 262.9 298.8C262.7 296.8 262.9 295.0 263.2 293.3C263.6 291.5 263.9 289.9 265.0 288.2C266.1 286.6 268.0 284.9 269.8 283.3C271.7 281.6 273.9 279.9 276.3 278.3C278.6 276.7 281.4 274.9 283.7 273.8C286.0 272.7 288.0 272.1 290.1 271.6C292.2 271.1 294.3 270.8 296.4 270.8Z"/>
<path d="M296.2 277.5C297.9 277.5 299.5 277.6 301.2 278.1C302.8 278.6 304.6 279.3 306.1 280.3C307.6 281.2 309.0 282.5 310.2 283.8C311.5 285.1 312.6 286.7 313.5 288.2C314.4 289.7 314.9 291.1 315.6 292.6C316.3 294.0 317.0 295.4 317.6 297.0C318.3 298.6 319.2 300.5 319.7 302.2C320.1 304.0 320.4 305.9 320.3 307.5C320.2 309.1 320.0 310.4 319.3 311.9C318.6 313.3 317.4 314.8 316.0 316.3C314.6 317.7 312.8 319.3 311.0 320.6C309.3 322.0 307.2 323.1 305.3 324.1C303.4 325.1 301.3 326.1 299.5 326.6C297.8 327.2 296.2 327.5 294.6 327.5C292.9 327.5 291.2 327.3 289.7 326.8C288.2 326.3 286.9 325.6 285.5 324.6C284.2 323.5 282.8 322.2 281.4 320.6C280.1 319.1 278.5 317.1 277.3 315.4C276.1 313.6 275.0 311.9 274.0 310.1C273.1 308.4 272.1 306.6 271.5 304.9C270.9 303.1 270.5 301.2 270.3 299.6C270.1 298.0 270.3 296.6 270.5 295.2C270.8 293.8 271.1 292.6 271.9 291.3C272.8 289.9 274.2 288.6 275.7 287.3C277.1 286.0 278.8 284.6 280.6 283.4C282.4 282.2 284.6 280.7 286.4 279.9C288.1 279.0 289.7 278.5 291.3 278.1C293.0 277.7 294.6 277.5 296.2 277.5Z"/>
<path d="M296.0 281.5C297.3 281.5 298.5 281.6 299.8 282.0C301.0 282.4 302.4 283.0 303.5 283.8C304.7 284.6 305.7 285.6 306.6 286.7C307.6 287.7 308.5 289.0 309.2 290.2C309.8 291.4 310.2 292.6 310.7 293.8C311.2 295.0 311.8 296.0 312.3 297.4C312.8 298.7 313.5 300.2 313.8 301.6C314.2 303.0 314.4 304.6 314.3 305.9C314.2 307.2 314.1 308.3 313.5 309.5C313.0 310.7 312.1 311.9 311.0 313.1C310.0 314.3 308.6 315.6 307.3 316.6C305.9 317.7 304.4 318.7 302.9 319.5C301.5 320.3 299.9 321.0 298.5 321.5C297.2 321.9 296.0 322.2 294.8 322.2C293.5 322.2 292.2 322.0 291.0 321.6C289.9 321.2 288.9 320.7 287.9 319.8C286.8 319.0 285.8 317.9 284.8 316.6C283.7 315.4 282.6 313.7 281.6 312.3C280.7 310.9 279.9 309.5 279.1 308.1C278.4 306.6 277.7 305.2 277.2 303.8C276.8 302.4 276.4 300.8 276.3 299.5C276.2 298.2 276.3 297.1 276.5 295.9C276.7 294.8 276.9 293.8 277.5 292.7C278.2 291.6 279.3 290.6 280.4 289.5C281.5 288.4 282.8 287.3 284.1 286.3C285.5 285.3 287.1 284.1 288.5 283.4C289.9 282.7 291.0 282.3 292.3 282.0C293.5 281.7 294.8 281.5 296.0 281.5Z"/>
<path d="M297.4 285.5C298.3 285.5 299.2 285.6 300.1 285.9C301.0 286.2 301.9 286.7 302.7 287.2C303.5 287.8 304.3 288.6 304.9 289.5C305.6 290.3 306.2 291.3 306.7 292.2C307.2 293.1 307.4 294.0 307.8 294.9C308.1 295.8 308.5 296.7 308.9 297.7C309.2 298.7 309.7 299.9 310.0 301.0C310.2 302.1 310.3 303.3 310.3 304.3C310.3 305.3 310.1 306.1 309.8 307.0C309.4 307.9 308.7 308.9 308.0 309.8C307.3 310.7 306.3 311.7 305.4 312.5C304.4 313.3 303.3 314.1 302.3 314.7C301.3 315.3 300.2 315.9 299.2 316.3C298.3 316.6 297.4 316.8 296.6 316.8C295.7 316.8 294.7 316.7 293.9 316.4C293.1 316.1 292.5 315.6 291.7 315.0C291.0 314.3 290.3 313.5 289.5 312.5C288.8 311.5 288.0 310.3 287.3 309.2C286.7 308.1 286.1 307.0 285.6 305.9C285.1 304.8 284.6 303.7 284.3 302.6C283.9 301.5 283.7 300.3 283.6 299.3C283.5 298.3 283.6 297.5 283.7 296.6C283.9 295.7 284.0 294.9 284.5 294.1C284.9 293.3 285.7 292.5 286.5 291.7C287.2 290.8 288.2 290.0 289.1 289.2C290.1 288.4 291.2 287.5 292.2 287.0C293.1 286.4 293.9 286.1 294.8 285.9C295.7 285.6 296.6 285.5 297.4 285.5Z"/>
</g>
<g fill="none" stroke="#ff0000" stroke-width="2.2" stroke-linecap="round">
<path d="M301.2 287.4 A10.5 10.5 0 1 0 307.7 299.9"/>
<path d="M296.2 289.9 A7 7 0 1 0 303.2 301.9"/>
</g>
<ellipse cx="297.2" cy="296.9" rx="6.8" ry="5.6" fill="#ff0000"/>
</g></g>
<path d="M119.4 70.5 V664.5 H713.4" fill="none" stroke="#262626" stroke-width="1.4"/>
<path d="M119.4 70.5 H713.4" fill="none" stroke="#6b5f5a" stroke-width="0.8" opacity="0.7"/>
<text x="119.40" y="687.8" font-size="21" text-anchor="middle">-1000</text>
<text x="116.20" y="672.50" font-size="21" text-anchor="end">-1000</text>
<text x="175.88" y="687.8" font-size="21" text-anchor="middle">-800</text>
<text x="110.36" y="613.10" font-size="21" text-anchor="end">-800</text>
<text x="235.28" y="687.8" font-size="21" text-anchor="middle">-600</text>
<text x="110.36" y="553.70" font-size="21" text-anchor="end">-600</text>
<text x="294.68" y="687.8" font-size="21" text-anchor="middle">-400</text>
<text x="110.36" y="494.30" font-size="21" text-anchor="end">-400</text>
<text x="354.08" y="687.8" font-size="21" text-anchor="middle">-200</text>
<text x="110.36" y="434.90" font-size="21" text-anchor="end">-200</text>
<text x="404.72" y="687.8" font-size="21" text-anchor="middle">0</text>
<text x="92.85" y="375.50" font-size="21" text-anchor="end">0</text>
<text x="469.96" y="687.8" font-size="21" text-anchor="middle">200</text>
<text x="104.52" y="316.10" font-size="21" text-anchor="end">200</text>
<text x="529.36" y="687.8" font-size="21" text-anchor="middle">400</text>
<text x="104.52" y="256.70" font-size="21" text-anchor="end">400</text>
<text x="588.76" y="687.8" font-size="21" text-anchor="middle">600</text>
<text x="104.52" y="197.30" font-size="21" text-anchor="end">600</text>
<text x="648.16" y="687.8" font-size="21" text-anchor="middle">800</text>
<text x="104.52" y="137.90" font-size="21" text-anchor="end">800</text>
<text x="710.48" y="687.8" font-size="21" text-anchor="middle">1000</text>
<text x="110.36" y="78.50" font-size="21" text-anchor="end">1000</text>
<text x="416.7" y="714.8" font-size="22.5" text-anchor="middle">Distance (m)</text>
<text transform="translate(52.2 367.2) rotate(-90)" font-size="22.5" text-anchor="middle">Distance (m)</text>
<text x="417" y="65" font-size="23.2" font-weight="bold" text-anchor="middle" style="fill:#000">SE2</text>
<rect x="758.6" y="71.8" width="590.9" height="591.6" fill="#fff"/>
<path d="M817.69 71.8 V663.4 M758.6 130.96 H1349.5 M876.78 71.8 V663.4 M758.6 190.12 H1349.5 M935.87 71.8 V663.4 M758.6 249.28 H1349.5 M994.96 71.8 V663.4 M758.6 308.44 H1349.5 M1054.05 71.8 V663.4 M758.6 367.60 H1349.5 M1113.14 71.8 V663.4 M758.6 426.76 H1349.5 M1172.23 71.8 V663.4 M758.6 485.92 H1349.5 M1231.32 71.8 V663.4 M758.6 545.08 H1349.5 M1290.41 71.8 V663.4 M758.6 604.24 H1349.5" fill="none" stroke="#262626" stroke-opacity="0.15" stroke-width="1.3"/>
<g transform="translate(758.6 71.8) scale(0.99478 0.99596)"><g clip-path="url(#fp)"><use href="#vegmap"/></g></g>
<path d="M817.69 663.4 v-6 M817.69 71.8 v6 M758.6 130.96 h6 M1349.5 130.96 h-6 M876.78 663.4 v-6 M876.78 71.8 v6 M758.6 190.12 h6 M1349.5 190.12 h-6 M935.87 663.4 v-6 M935.87 71.8 v6 M758.6 249.28 h6 M1349.5 249.28 h-6 M994.96 663.4 v-6 M994.96 71.8 v6 M758.6 308.44 h6 M1349.5 308.44 h-6 M1054.05 663.4 v-6 M1054.05 71.8 v6 M758.6 367.60 h6 M1349.5 367.60 h-6 M1113.14 663.4 v-6 M1113.14 71.8 v6 M758.6 426.76 h6 M1349.5 426.76 h-6 M1172.23 663.4 v-6 M1172.23 71.8 v6 M758.6 485.92 h6 M1349.5 485.92 h-6 M1231.32 663.4 v-6 M1231.32 71.8 v6 M758.6 545.08 h6 M1349.5 545.08 h-6 M1290.41 663.4 v-6 M1290.41 71.8 v6 M758.6 604.24 h6 M1349.5 604.24 h-6" fill="none" stroke="#262626" stroke-width="1.4"/>
<rect x="758.6" y="71.8" width="590.9" height="591.6" fill="none" stroke="#262626" stroke-width="1.7"/>
<text x="758.10" y="687.8" font-size="21" text-anchor="middle">-1000</text>
<text x="814.27" y="687.8" font-size="21" text-anchor="middle">-800</text>
<text x="873.36" y="687.8" font-size="21" text-anchor="middle">-600</text>
<text x="932.45" y="687.8" font-size="21" text-anchor="middle">-400</text>
<text x="991.54" y="687.8" font-size="21" text-anchor="middle">-200</text>
<text x="1041.87" y="687.8" font-size="21" text-anchor="middle">0</text>
<text x="1106.80" y="687.8" font-size="21" text-anchor="middle">200</text>
<text x="1165.89" y="687.8" font-size="21" text-anchor="middle">400</text>
<text x="1224.98" y="687.8" font-size="21" text-anchor="middle">600</text>
<text x="1284.07" y="687.8" font-size="21" text-anchor="middle">800</text>
<text x="1346.08" y="687.8" font-size="21" text-anchor="middle">1000</text>
<text x="1053.6" y="714.8" font-size="22.5" text-anchor="middle">Distance (m)</text>
<g font-size="23.2" font-weight="bold"><text x="879.6" y="65" style="fill:#000">Mean:</text><text x="1031.3" y="65" text-anchor="end" style="fill:#000">11.1 m</text><text x="1081.6" y="65" style="fill:#000">Stdev:</text><text x="1229.4" y="65" text-anchor="end" style="fill:#000">4.8 m</text></g>
<rect x="1380.5" y="656.84" width="37.0" height="9.86" fill="#3e26a8"/><rect x="1380.5" y="647.48" width="37.0" height="9.86" fill="#402ab4"/><rect x="1380.5" y="638.13" width="37.0" height="9.86" fill="#422ec0"/><rect x="1380.5" y="628.77" width="37.0" height="9.86" fill="#4432cb"/><rect x="1380.5" y="619.41" width="37.0" height="9.86" fill="#4537d5"/><rect x="1380.5" y="610.05" width="37.0" height="9.86" fill="#463cde"/><rect x="1380.5" y="600.70" width="37.0" height="9.86" fill="#4741e5"/><rect x="1380.5" y="591.34" width="37.0" height="9.86" fill="#4747eb"/><rect x="1380.5" y="581.98" width="37.0" height="9.86" fill="#484df0"/><rect x="1380.5" y="572.62" width="37.0" height="9.86" fill="#4852f4"/><rect x="1380.5" y="563.26" width="37.0" height="9.86" fill="#4758f8"/><rect x="1380.5" y="553.91" width="37.0" height="9.86" fill="#465efb"/><rect x="1380.5" y="544.55" width="37.0" height="9.86" fill="#4563fd"/><rect x="1380.5" y="535.19" width="37.0" height="9.86" fill="#4269fe"/><rect x="1380.5" y="525.83" width="37.0" height="9.86" fill="#3e6fff"/><rect x="1380.5" y="516.48" width="37.0" height="9.86" fill="#3875fe"/><rect x="1380.5" y="507.12" width="37.0" height="9.86" fill="#327cfc"/><rect x="1380.5" y="497.76" width="37.0" height="9.86" fill="#2f81fa"/><rect x="1380.5" y="488.40" width="37.0" height="9.86" fill="#2e87f7"/><rect x="1380.5" y="479.04" width="37.0" height="9.86" fill="#2d8cf3"/><rect x="1380.5" y="469.69" width="37.0" height="9.86" fill="#2b91ef"/><rect x="1380.5" y="460.33" width="37.0" height="9.86" fill="#2797eb"/><rect x="1380.5" y="450.97" width="37.0" height="9.86" fill="#259be8"/><rect x="1380.5" y="441.61" width="37.0" height="9.86" fill="#23a0e5"/><rect x="1380.5" y="432.25" width="37.0" height="9.86" fill="#20a5e3"/><rect x="1380.5" y="422.90" width="37.0" height="9.86" fill="#1ca9df"/><rect x="1380.5" y="413.54" width="37.0" height="9.86" fill="#18addb"/><rect x="1380.5" y="404.18" width="37.0" height="9.86" fill="#12b1d6"/><rect x="1380.5" y="394.82" width="37.0" height="9.86" fill="#08b5d0"/><rect x="1380.5" y="385.47" width="37.0" height="9.86" fill="#01b8ca"/><rect x="1380.5" y="376.11" width="37.0" height="9.86" fill="#02bac3"/><rect x="1380.5" y="366.75" width="37.0" height="9.86" fill="#0bbdbd"/><rect x="1380.5" y="357.39" width="37.0" height="9.86" fill="#19bfb6"/><rect x="1380.5" y="348.03" width="37.0" height="9.86" fill="#24c1ae"/><rect x="1380.5" y="338.68" width="37.0" height="9.86" fill="#2cc4a7"/><rect x="1380.5" y="329.32" width="37.0" height="9.86" fill="#31c69f"/><rect x="1380.5" y="319.96" width="37.0" height="9.86" fill="#37c897"/><rect x="1380.5" y="310.60" width="37.0" height="9.86" fill="#3fca8e"/><rect x="1380.5" y="301.25" width="37.0" height="9.86" fill="#4acb84"/><rect x="1380.5" y="291.89" width="37.0" height="9.86" fill="#57cc7a"/><rect x="1380.5" y="282.53" width="37.0" height="9.86" fill="#64cd6f"/><rect x="1380.5" y="273.17" width="37.0" height="9.86" fill="#72cd64"/><rect x="1380.5" y="263.81" width="37.0" height="9.86" fill="#81cc59"/><rect x="1380.5" y="254.46" width="37.0" height="9.86" fill="#8fcb4e"/><rect x="1380.5" y="245.10" width="37.0" height="9.86" fill="#9dc943"/><rect x="1380.5" y="235.74" width="37.0" height="9.86" fill="#abc739"/><rect x="1380.5" y="226.38" width="37.0" height="9.86" fill="#b9c431"/><rect x="1380.5" y="217.02" width="37.0" height="9.86" fill="#c5c22a"/><rect x="1380.5" y="207.67" width="37.0" height="9.86" fill="#d1bf27"/><rect x="1380.5" y="198.31" width="37.0" height="9.86" fill="#dcbd29"/><rect x="1380.5" y="188.95" width="37.0" height="9.86" fill="#e6bb2d"/><rect x="1380.5" y="179.59" width="37.0" height="9.86" fill="#f0ba36"/><rect x="1380.5" y="170.24" width="37.0" height="9.86" fill="#f8ba3d"/><rect x="1380.5" y="160.88" width="37.0" height="9.86" fill="#febe3c"/><rect x="1380.5" y="151.52" width="37.0" height="9.86" fill="#fec338"/><rect x="1380.5" y="142.16" width="37.0" height="9.86" fill="#fec934"/><rect x="1380.5" y="132.80" width="37.0" height="9.86" fill="#fccf30"/><rect x="1380.5" y="123.45" width="37.0" height="9.86" fill="#fad62d"/><rect x="1380.5" y="114.09" width="37.0" height="9.86" fill="#f7dc2a"/><rect x="1380.5" y="104.73" width="37.0" height="9.86" fill="#f5e327"/><rect x="1380.5" y="95.37" width="37.0" height="9.86" fill="#f5e924"/><rect x="1380.5" y="86.02" width="37.0" height="9.86" fill="#f6ef20"/><rect x="1380.5" y="76.66" width="37.0" height="9.86" fill="#f7f51b"/><rect x="1380.5" y="67.30" width="37.0" height="9.86" fill="#f9fb15"/>
<text x="1430.3" y="673.20" font-size="18.9">0</text>
<text x="1430.3" y="553.42" font-size="18.9">5</text>
<text x="1430.3" y="433.64" font-size="18.9">10</text>
<text x="1430.3" y="313.86" font-size="18.9">15</text>
<text x="1430.3" y="194.08" font-size="18.9">20</text>
<text x="1430.3" y="74.30" font-size="18.9">25</text>
<path d="M1417.5 546.42 h-6 M1417.5 426.64 h-6 M1417.5 306.86 h-6 M1417.5 187.08 h-6" fill="none" stroke="#262626" stroke-width="1.4"/>
<rect x="1380.5" y="67.3" width="37.0" height="598.9000000000001" fill="none" stroke="#262626" stroke-width="1.8"/>
<text transform="translate(1484.4 367.6) rotate(-90)" font-size="20.7" text-anchor="middle">Vegetation Height (m AGL)</text>
</svg>
</body></html>
